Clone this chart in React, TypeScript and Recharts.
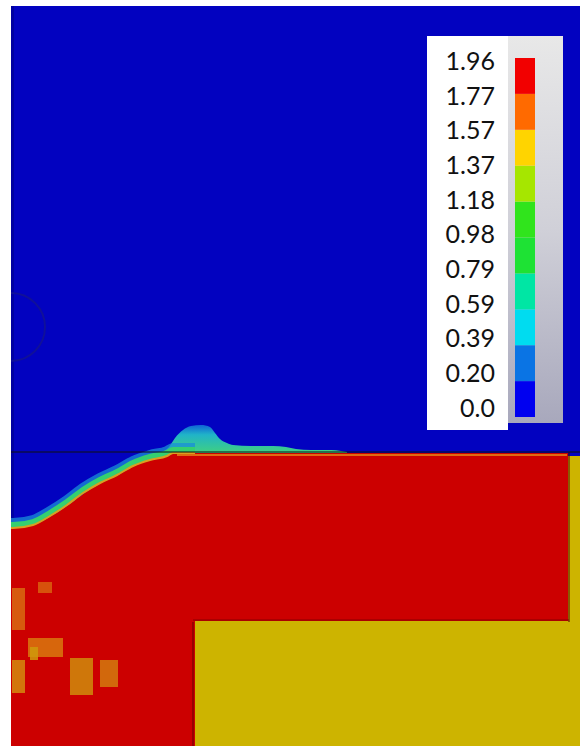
import React from "react";
import {
  ComposedChart,
  Bar,
  Area,
  Line,
  XAxis,
  YAxis,
  ReferenceArea,
  ReferenceLine,
  ReferenceDot,
} from "recharts";

// interface of the dense (red) layer: x position and depth of its top
const interfaceX = [0, 2, 22, 39, 56, 72, 89, 106, 122, 139, 156, 162, 172, 184];
const interfaceDepth = [522, 522, 519, 510, 499, 487, 477, 469, 460, 454, 450, 447, 447, 447];

// spray lifted above the interface
const sprayX = [152, 158, 164, 172, 180, 190, 199, 204, 209, 216, 222, 240, 262, 275, 285, 300, 320, 330, 336];
const sprayDepth = [446, 441, 432, 424, 420, 419, 421, 427, 433, 437, 439, 440, 440, 441, 443, 444, 444, 445, 446];

// red block (right part) and yellow block
const redBlockX = [176, 557];
const redBlockDepth = [447, 615];
const yellowX = [182, 556, 556, 569];
const yellowTop = [615, 615, 450, 450];

// lighter patches inside the red layer: [x1, x2, y1, y2]
const patchX1 = [27, 1, 17, 19, 1, 59, 89];
const patchX2 = [41, 14, 52, 27, 14, 82, 107];
const patchY1 = [576, 582, 632, 641, 654, 652, 654];
const patchY2 = [587, 624, 651, 654, 687, 689, 681];
const patchColors = ["#d8600e", "#d86a10", "#d8780e", "#cf9a0c", "#d48a0e", "#cf8c0c", "#d27a0e"];

// color scale
const scaleLabels = ["0.0", "0.20", "0.39", "0.59", "0.79", "0.98", "1.18", "1.37", "1.57", "1.77", "1.96"];
const scaleTicks = [0, 1, 2, 3, 4, 5, 6, 7, 8, 9, 10];
const scaleColors = [
  "#0000f0",
  "#0a74e4",
  "#00dcf0",
  "#00e6a4",
  "#1ee234",
  "#30e41c",
  "#a6e600",
  "#ffd400",
  "#ff6a00",
  "#f20000",
];

const lowerData = interfaceX.map((x, i) => ({ x, band: [interfaceDepth[i], 740] }));
const haloData = interfaceX.map((x, i) => ({ x, depth: interfaceDepth[i] - 5 }));
const lineData = interfaceX.map((x, i) => ({ x, depth: interfaceDepth[i] - 3 }));
const edgeData = interfaceX.map((x, i) => ({ x, depth: interfaceDepth[i] }));
const sprayData = sprayX.map((x, i) => ({ x, band: [sprayDepth[i], 447] }));
const redBlockData = redBlockX.map((x) => ({ x, band: redBlockDepth }));
const yellowData = yellowX.map((x, i) => ({ x, band: [yellowTop[i], 740] }));
const scaleRow = [
  scaleColors.reduce((row: Record<string, number>, _c, i) => ({ ...row, ["s" + i]: 1 }), { name: 0, lab: null } as any),
];

export default function App() {
  return (
    <div style={{ position: "absolute", left: 0, top: 0, width: 580, height: 746, background: "#fff" }}>
      <div style={{ position: "absolute", left: 11, top: 6, width: 569, height: 740, background: "#0202c0" }}>
        <ComposedChart width={569} height={740} margin={{ top: 0, right: 0, bottom: 0, left: 0 }}>
          <XAxis type="number" dataKey="x" domain={[0, 569]} hide allowDataOverflow />
          <YAxis type="number" domain={[0, 740]} reversed hide allowDataOverflow />
          <ReferenceArea x1={0} x2={3} y1={0} y2={740} fill="#00009a" fillOpacity={0.8} stroke="none" />
          <ReferenceDot x={0} y={321} r={34} fill="none" stroke="#10109a" strokeWidth={2} />
          <Area
            data={sprayData}
            dataKey="band"
            type="monotone"
            stroke="none"
            fill="url(#sprayGrad)"
            fillOpacity={1}
            isAnimationActive={false}
          />
          <Area
            data={yellowData}
            dataKey="band"
            type="linear"
            stroke="none"
            fill="#cdb400"
            fillOpacity={1}
            isAnimationActive={false}
          />
          <Area
            data={redBlockData}
            dataKey="band"
            type="linear"
            stroke="none"
            fill="#cc0000"
            fillOpacity={1}
            isAnimationActive={false}
          />
          <Area
            data={lowerData}
            dataKey="band"
            type="monotone"
            stroke="none"
            fill="#cc0000"
            fillOpacity={1}
            isAnimationActive={false}
          />
          <Line
            data={haloData}
            dataKey="depth"
            type="monotone"
            stroke="#1a8ed8"
            strokeWidth={10}
            strokeOpacity={0.75}
            dot={false}
            isAnimationActive={false}
          />
          <Line
            data={lineData}
            dataKey="depth"
            type="monotone"
            stroke="#34d070"
            strokeWidth={6}
            dot={false}
            isAnimationActive={false}
          />
          <Line
            data={edgeData}
            dataKey="depth"
            type="monotone"
            stroke="#d8a020"
            strokeWidth={2}
            dot={false}
            isAnimationActive={false}
          />
          {patchX1.map((x1, i) => (
            <ReferenceArea
              key={i}
              x1={x1}
              x2={patchX2[i]}
              y1={patchY1[i]}
              y2={patchY2[i]}
              fill={patchColors[i]}
              fillOpacity={0.85}
              stroke="none"
            />
          ))}
          <ReferenceLine segment={[{ x: 166, y: 449 }, { x: 556, y: 449 }]} stroke="#e06a10" strokeWidth={2} />
          <ReferenceLine segment={[{ x: 0, y: 446 }, { x: 569, y: 446 }]} stroke="#111" strokeWidth={1} />
          <ReferenceLine segment={[{ x: 558, y: 446 }, { x: 558, y: 616 }]} stroke="#400" strokeWidth={1} />
          <ReferenceLine segment={[{ x: 182, y: 614 }, { x: 558, y: 614 }]} stroke="#800" strokeWidth={1} />
          <ReferenceLine segment={[{ x: 182, y: 616 }, { x: 182, y: 740 }]} stroke="#600" strokeWidth={1} />
          <defs>
            <linearGradient id="sprayGrad" x1="0" y1="0" x2="0" y2="1">
              <stop offset="0%" stopColor="#1064d6" />
              <stop offset="35%" stopColor="#20b4c8" />
              <stop offset="100%" stopColor="#40d080" />
            </linearGradient>
          </defs>
        </ComposedChart>
      </div>
      <div style={{ position: "absolute", left: 427, top: 36, width: 81, height: 394, background: "#fff" }} />
      <div
        style={{
          position: "absolute",
          left: 508,
          top: 36,
          width: 55,
          height: 387,
          background: "linear-gradient(#e8e8e8, #d0d0d8 50%, #a8a8bc)",
        }}
      />
      <div style={{ position: "absolute", left: 427, top: 0 }}>
        <ComposedChart
          width={108}
          height={430}
          data={scaleRow}
          margin={{ top: 58, right: 0, bottom: 13, left: 0 }}
          barCategoryGap={0}
        >
          <XAxis dataKey="name" type="category" hide />
          <YAxis
            yAxisId="lab"
            type="number"
            domain={[-0.26, 10.09]}
            ticks={scaleTicks}
            tickFormatter={(v: number) => scaleLabels[v]}
            width={88}
            axisLine={false}
            tickLine={false}
            tickSize={12}
            tickMargin={8}
            tick={{ fill: "#111", fontSize: 25, fontFamily: "Lato" }}
            interval={0}
            allowDataOverflow
          />
          <YAxis yAxisId="bar" type="number" domain={[0, 10]} width={0} hide />
          {scaleColors.map((c, i) => (
            <Bar key={i} yAxisId="bar" dataKey={"s" + i} stackId="a" fill={c} isAnimationActive={false} />
          ))}
          <Line
            yAxisId="lab"
            dataKey="lab"
            stroke="none"
            dot={false}
            activeDot={false}
            isAnimationActive={false}
          />
        </ComposedChart>
      </div>
    </div>
  );
}
